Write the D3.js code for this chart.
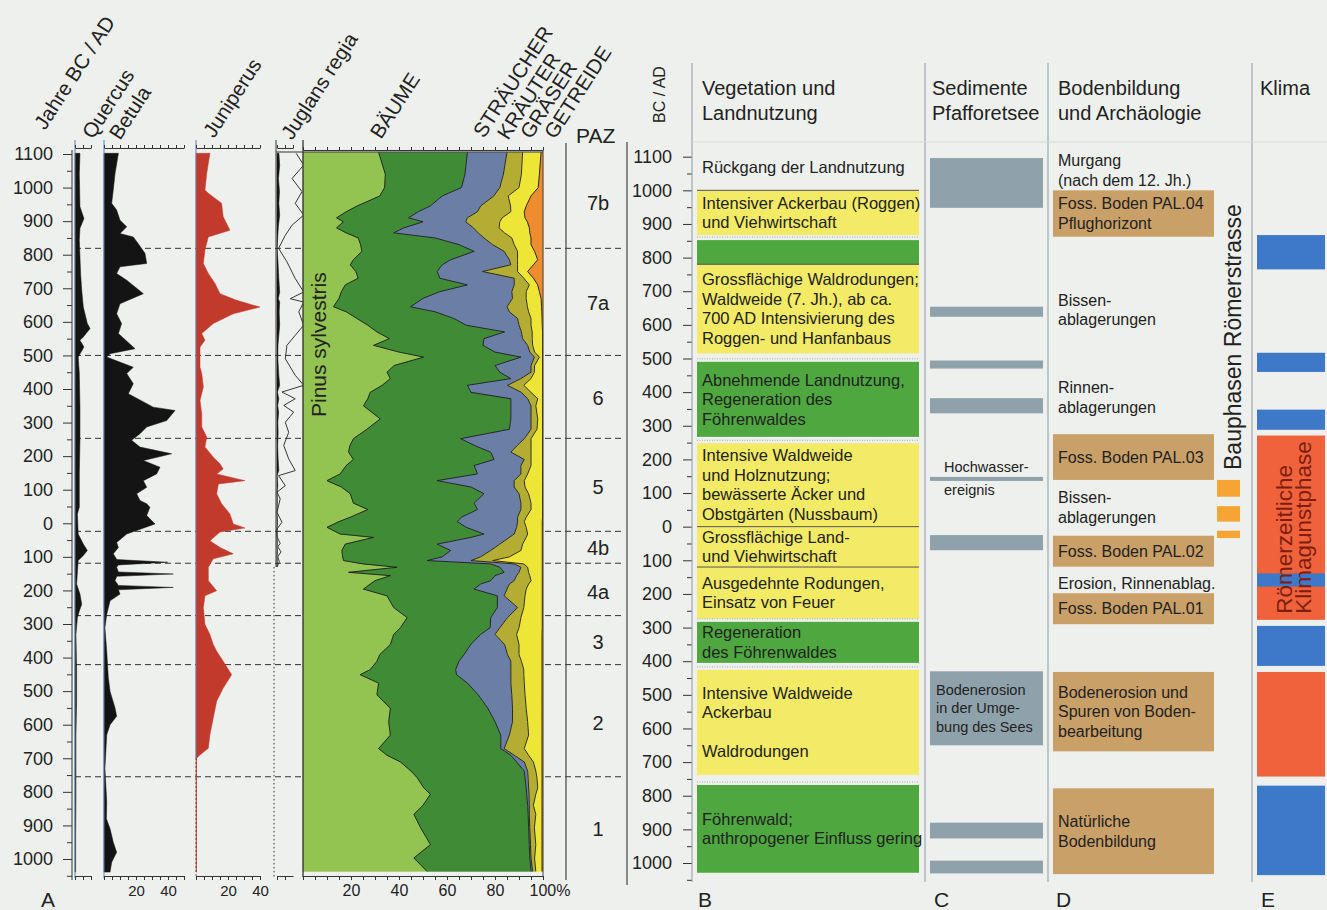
<!DOCTYPE html>
<html><head><meta charset="utf-8">
<script src="https://cdn.jsdelivr.net/npm/d3@7"></script>
<style>
body{margin:0;background:#eef0ed;}
svg{display:block;}
</style>
</head><body>
<svg id="c" width="1327" height="910"></svg>
<script>
// ---------------- DATA ----------------
const yearTicks = d3.range(1100, -1001, -100);
const minorTicks = d3.range(1050, -1051, -100);

// Pollen zone (PAZ) boundaries and labels
const pazBounds = [819, 500, 253, -24, -119, -275, -421, -755];
const pazLabels = ["7b", "7a", "6", "5", "4b", "4a", "3", "2", "1"];
const pazCenters = [954, 655, 372, 107, -75, -204, -353, -595, -911];

// Quercus (%)
const quercusYears = [1102,1042,943,908,879,843,744,694,644,595,580,555,545,525,495,446,346,247,147,48,28,-32,-62,-81,-96,-111,-181,-211,-241,-261,-281,-331,-431,-531,-631,-731,-831,-931,-1039];
const quercusPct   = [3.1,2.7,3.1,5.6,3.1,2.7,3.5,4.2,5.2,7.7,9.4,5.2,3.1,5.6,2,2.7,3.1,3.1,2.7,2.7,1.5,2,5.2,7.7,5.2,2,1,3.1,4.2,2.7,1.5,0.6,1,1,0.6,0.6,0.6,0.4,0.4];

// Betula (%)
const betulaYears = [1102,1042,993,953,933,903,883,863,853,833,804,774,764,744,724,684,654,624,595,565,520,505,495,465,446,416,386,346,336,306,287,267,247,227,207,187,167,147,127,107,88,68,58,48,23,-2,-32,-57,-72,-91,-108,-116,-124,-131,-145,-151,-158,-171,-185,-191,-198,-211,-231,-271,-311,-381,-460,-501,-550,-575,-600,-630,-730,-830,-880,-910,-950,-980,-1010,-1039];
const betulaPct   = [9,6.9,5.8,4.8,7.9,10,14.2,10,18.3,21.4,25.6,26.7,10,7.9,14.2,24.6,10,7.9,11,9,19.4,3.8,1.7,18.3,14.2,18.3,15.2,30.8,44.4,39.2,26.7,22.5,17.3,22.5,42.3,24.6,35,32.9,24.6,26.7,20.4,22.5,26.7,28.7,26.7,31.9,14.2,7.9,9,5.8,8,39.8,9,7.9,9,43.3,8,6.9,9,43.3,9,10,3.8,1.7,0.6,1.7,2.7,3.8,6.9,7.9,3.8,1.7,0.6,1.7,1.5,3.8,5.8,7.9,4.8,3.8];

// Juniperus (%)
const juniperusYears = [1102,1042,993,983,953,913,873,853,814,774,744,714,684,664,644,624,595,565,545,525,465,446,406,366,326,287,257,227,197,177,162,147,127,117,88,58,28,-2,-14,-26,-52,-72,-91,-106,-131,-171,-201,-216,-251,-301,-331,-361,-381,-411,-451,-491,-530,-580,-630,-670,-690,-700,-750,-1039];
const juniperusPct   = [8.7,6.7,5.6,7.7,16,17,21.2,7.7,5.6,4.6,7.7,11.9,15,25.4,40,23.3,10.8,3.6,5.6,2.5,2.5,3.6,4.6,2.5,3.6,3.6,6.7,5.6,10.8,15,17,12.9,30.6,14,12.9,16,21.2,23.3,30.6,15,8.7,15,23.3,10.8,7.7,7.7,12.9,5.6,4.6,5.6,8.7,10.8,12.9,17,22.3,17,12.9,10.8,8.7,7.7,2.5,0.4,0.3,0.3];

// Juglans regia (%), outline drawn with 10x exaggeration
const juglansYears = [1102,1067,1027,988,953,918,888,858,819,779,729,689,669,659,630,590,560,530,490,441,411,391,371,351,331,301,271,232,192,157,142,112,93,73,33,3,-17,-40,-60,-70,-85,-100,-115,-130];
const juglansPct   = [1.2,1.67,0.94,1.56,1.14,1.67,0.94,0.52,0.1,0.62,1.14,1.67,0.83,1.67,1.36,1.67,1.14,0.62,0.52,1.14,1.67,0.31,1.14,0.42,1.04,0.52,0.73,0.42,0.73,1.14,0.1,0.52,0,0.2,0,0.31,0,0,0.2,0.05,0.25,0.05,0.15,0];

// Cumulative main diagram (%): Pinus, Bäume, +Sträucher, +Kräuter, +Gräser (rest = Getreide)
const stackYears = [1105,1040,1000,975,945,928,910,898,880,865,850,830,810,785,770,750,730,710,690,670,645,630,610,590,570,550,530,510,495,470,450,431,411,390,371,350,311,280,252,230,212,190,172,147,127,108,88,60,41,18,5,-12,-32,-42,-62,-81,-100,-111,-121,-131,-146,-156,-171,-181,-196,-216,-251,-281,-311,-331,-361,-391,-411,-436,-451,-476,-511,-551,-591,-631,-671,-691,-711,-738,-758,-788,-807,-840,-867,-907,-957,-997,-1037];
const pinusPct = [31.5,34.3,34,32,22.5, 18,14,16.8,14,18, 23,24,24.5,21,19.7, 22,23,17.6,16,15, 12.7,18,22.5,27,30.8, 36,29.4,40,50.3,38, 35,36.4,33,28,27, 25.2,32.2,26.6,21,19.5, 19,21,18,15.5,10, 16,19.7,21,27,19.7, 15,10,15.5,29.4,17.6, 16.2,16.5,16.9,25,39.2, 19,36.4,30,28,25.2, 35,37.8,43.4,40.6,37.8, 36.4,32,30.8,28,23.8, 31.5,30.8,36.4,35.7,36.4, 31.5,35,40.6,45,47.6, 50.3,53.1,50,46.2,49, 53.1,46.2,51.7];
const baeumeCum = [68.5,67.5,66,58,53, 48,44,50,42,37.8, 55,65,71.3,61.5,58, 55.9,57,68.5,57,50, 44.8,55,62.9,68,84, 75.4,75,80,90.8,80, 82,86.6,68.5,70,86.6, 86.6,86.6,86,65.7,72, 78.2,79.6,71.3,72.7,55.9, 70,75.4,71.3,72.7,66, 64.3,68,75.4,70,55.9, 61.5,58,51.7,78.2,82, 83.8,80,78.2,74,71.3, 81,81,78.2,78,74, 69.9,67.1,65,63.6,64, 68.5,73,77,80,82.4, 82.4,86.6,89,92.2,92.5, 93,93.2,93.6,93.8,94, 94.3,94.5,95];
const straeucherCum = [85,83.5,82,79.5,74, 72.7,68.5,67.8,71,73, 75.4,79,83.8,86,86.6, 74.8,88,88,87,87.3, 85,86,89.4,90,91, 91.5,93.6,94.5,96.4,95, 95,90.8,85.2,91,93.6, 95,95,95,92.2,89, 86.6,92.2,90.8,90.8,88, 88,90,90.8,90.8,89.4, 89.4,89,88,86,82, 78.2,74,70,88,90.8, 90,89,88,86,85, 83.8,89.4,85.2,82,80, 84,85.2,86.6,86.6,86.6, 86.6,87,87.3,87.3,86, 83.8,88,92.2,93.6,93.8, 94,94.2,94.3,94.3,94.5, 94.8,95,95.7];
const kraeuterCum = [91.5,91,90,85.5,86.5, 86.6,83,82,81.7,84, 87,88,89.4,89.4,89.4, 89.4,92,94.3,93,93, 93.5,94,95,95,95.5, 95.5,95.7,96.5,98.5,96.5, 96.4,95,92,95,97.8, 97,97.8,97.5,95,95, 95,95,95,93.6,92.2, 92.5,94,95,95,93, 92.2,93,93.6,93,91.5, 90.8,86,79,92,93.6, 94,94.5,95,94,93, 92.5,92,90.8,90,89, 90,90,91,92,92, 92.2,92.5,93,93.6,94, 92.2,94,96,97,97.5, 97.8,97,96,97,96.4, 97,96.5,97];
const graeserCum = [99.2,98.5,98,95,93, 92.2,92.5,93.5,94.3,94.5, 95,95,96.5,97.8,96, 93.6,96,97.8,98.5,99.2, 99.4,99.5,99.6,99.7,99.8, 99.8,99.8,99.8,99.8,99.8, 99.8,99.8,99.8,99.8,99.8, 99.8,99.8,99.8,99.8,99.8, 99.8,99.8,99.8,99.8,99.8, 99.8,99.8,99.8,99.8,99.8, 99.7,99.7,99.7,99.7,99.7, 99.7,99.7,99.7,99.7,99.7, 99.7,99.7,99.7,99.7,99.7, 99.7,99.7,99.7,99.7,99.6, 99.6,99.6,99.6,99.6,99.6, 99.6,99.6,99.6,99.6,99.6, 99.6,99.6,99.6,99.6,99.6, 99.6,99.6,99.6,99.6,99.6, 99.6,99.6,99.6];

// B: Vegetation und Landnutzung
const vegFrom = [1140, 1000, 852, 780, 490, 248, 0, -120, -283, -426, -768];
const vegTo   = [1000, 867, 780, 515, 267, 0, -120, -273, -405, -738, -1029];
const vegKind = ["none","acker","wald","acker","wald","acker","acker","acker","wald","acker","wald"];
const vegText = [
  ["Rückgang der Landnutzung"],
  ["Intensiver Ackerbau (Roggen)","und Viehwirtschaft"],
  [],
  ["Grossflächige Waldrodungen;","Waldweide (7. Jh.), ab ca.","700 AD Intensivierung des","Roggen- und Hanfanbaus"],
  ["Abnehmende Landnutzung,","Regeneration des","Föhrenwaldes"],
  ["Intensive Waldweide","und Holznutzung;","bewässerte Äcker und","Obstgärten (Nussbaum)"],
  ["Grossflächige Land-","und Viehwirtschaft"],
  ["Ausgedehnte Rodungen,","Einsatz von Feuer"],
  ["Regeneration","des Föhrenwaldes"],
  ["Intensive Waldweide","Ackerbau","","Waldrodungen"],
  ["Föhrenwald;","anthropogener Einfluss gering"]
];

// C: Sedimente Pfafforetsee
const sedFrom = [1096, 654, 494, 382, 148, -25, -430, -880, -993];
const sedTo   = [948, 624, 470, 337, 136, -70, -650, -927, -1031];
const sedText = [[],[],[],[],["Hochwasser-","ereignis"],[],["Bodenerosion","in der Umge-","bung des Sees"],[],[]];

// D: Bodenbildung und Archäologie
const bodenFrom = [1000, 275, -27, -198, -432, -778];
const bodenTo   = [862, 139, -119, -290, -668, -1033];
const bodenText = [["Foss. Boden PAL.04","Pflughorizont"],["Foss. Boden PAL.03"],["Foss. Boden PAL.02"],["Foss. Boden PAL.01"],["Bodenerosion und","Spuren von Boden-","bearbeitung"],["Natürliche","Bodenbildung"]];
const noteYears = [1059, 644, 384, 57, -168];
const noteText = [["Murgang","(nach dem 12. Jh.)"],["Bissen-","ablagerungen"],["Rinnen-","ablagerungen"],["Bissen-","ablagerungen"],["Erosion, Rinnenablag."]];

// Bauphasen Römerstrasse
const roemFrom = [139, 61, -12];
const roemTo   = [89, 15, -34];

// E: Klima
const klimaFrom = [867, 517, 348, 271, -139, -295, -432, -770];
const klimaTo   = [765, 460, 288, -277, -178, -414, -743, -1036];
const klimaKind = ["kalt","kalt","kalt","warm","kalt","kalt","warm","kalt"];

// ---------------- DRAWING ----------------
const F = '"Liberation Sans", Arial, Helvetica, sans-serif';
const svg = d3.select("#c").attr("font-family", F);
const yL = d3.scaleLinear().domain([1100, -1000]).range([154, 859]);
const yR = d3.scaleLinear().domain([1100, -1000]).range([156.7, 863]);

const xQ = d3.scaleLinear().domain([0, 10]).range([75, 91]);
const xB = d3.scaleLinear().domain([0, 50]).range([104, 184]);
const xJ = d3.scaleLinear().domain([0, 40]).range([196, 260]);
const xG = d3.scaleLinear().domain([0, 10]).range([277, 293]);
const xGx = d3.scaleLinear().domain([0, 1]).range([277, 293]); // 10x exaggeration
const xS = d3.scaleLinear().domain([0, 100]).range([303, 543]);

const INK = "#222";
const LINEC = "#5d7ea6";

function line(x1, y1, x2, y2, stroke, w, dash) {
  const l = svg.append("line").attr("x1", x1).attr("y1", y1).attr("x2", x2).attr("y2", y2)
    .attr("stroke", stroke).attr("stroke-width", w || 1);
  if (dash) l.attr("stroke-dasharray", dash);
  return l;
}
function text(x, y, s, size, opts) {
  opts = opts || {};
  const t = svg.append("text").attr("x", x).attr("y", y).text(s)
    .attr("font-size", size).attr("fill", opts.fill || INK);
  if (opts.anchor) t.attr("text-anchor", opts.anchor);
  if (opts.transform) t.attr("transform", opts.transform);
  return t;
}

// dashed zone boundaries (drawn beneath everything)
svg.selectAll("line.paz").data(pazBounds).join("line").attr("class", "paz")
  .attr("x1", 75).attr("x2", 625).attr("y1", d => yL(d)).attr("y2", d => yL(d))
  .attr("stroke", "#333").attr("stroke-width", 1).attr("stroke-dasharray", "6,4");

// year axes
function yAxis(scale, x, major, minor, pad) {
  const g = svg.append("g").attr("transform", `translate(${x},0)`)
    .call(d3.axisLeft(scale).tickValues(yearTicks).tickSize(major).tickPadding(pad).tickFormat(d => Math.abs(d)));
  g.attr("font-family", F).attr("font-size", 18);
  g.select(".domain").remove();
  g.selectAll("text").attr("fill", INK);
  g.selectAll("line").attr("stroke", "#333");
  const m = svg.append("g").attr("transform", `translate(${x},0)`)
    .call(d3.axisLeft(scale).tickValues(minorTicks).tickSize(minor).tickFormat(""));
  m.select(".domain").remove();
  m.selectAll("line").attr("stroke", "#333");
}
yAxis(yL, 72, 9, 5, 10);
line(72, 150, 72, 880, "#333", 1);

// single-taxon curves
function silhouette(years, vals, xs, color) {
  const data = years.map((y, i) => ({ y, v: vals[i] }));
  svg.append("path").datum(data)
    .attr("d", d3.area().y(d => yL(d.y)).x0(xs(0)).x1(d => xs(d.v)))
    .attr("fill", color).attr("stroke", color).attr("stroke-width", 0.5);
}
silhouette(quercusYears, quercusPct, xQ, "#141414");
silhouette(betulaYears, betulaPct, xB, "#141414");
silhouette(juniperusYears, juniperusPct, xJ, "#c23a2c");
silhouette(juglansYears, juglansPct, xG, "#141414");

// Juglans exaggeration outline
svg.append("clipPath").attr("id", "jclip").append("rect").attr("x", 276).attr("y", 140).attr("width", 27).attr("height", 740);
svg.append("path").datum(juglansYears.map((y, i) => ({ y, v: juglansPct[i] })))
  .attr("clip-path", "url(#jclip)")
  .attr("d", d3.line().y(d => yL(d.y)).x(d => xGx(d.v)))
  .attr("fill", "none").attr("stroke", "#222").attr("stroke-width", 0.9);

// panel frame lines
line(75, 140, 75, 878, LINEC, 1);
line(104, 140, 104, 878, LINEC, 1);
line(196, 140, 196, yL(-700), LINEC, 1);
line(196, yL(-700), 196, 878, "#333", 1, "1.5,2.5");
line(276, 140, 276, yL(-130), "#333", 1);
line(274, yL(-130), 274, 878, "#333", 1, "1.5,2.5");

// stacked main diagram
const sData = stackYears.map((y, i) => ({ y, p: pinusPct[i], t: baeumeCum[i], s: straeucherCum[i], k: kraeuterCum[i], g: graeserCum[i] }));
const bands = [
  [d => 0, d => d.p, "#93c451"],
  [d => d.p, d => d.t, "#3f8b36"],
  [d => d.t, d => d.s, "#6a7ea6"],
  [d => d.s, d => d.k, "#b3ad33"],
  [d => d.k, d => d.g, "#ede636"],
  [d => d.g, d => 100, "#ee8c30"]
];
bands.forEach(([lo, hi, c]) => {
  svg.append("path").datum(sData)
    .attr("d", d3.area().y(d => yL(d.y)).x0(d => xS(lo(d))).x1(d => xS(hi(d))))
    .attr("fill", c).attr("stroke", c).attr("stroke-width", 0.4);
});
[d => d.p, d => d.t, d => d.s, d => d.k, d => d.g].forEach(f => {
  svg.append("path").datum(sData)
    .attr("d", d3.line().y(d => yL(d.y)).x(d => xS(f(d))))
    .attr("fill", "none").attr("stroke", "#1c1c1c").attr("stroke-width", 0.9);
});
line(303, 140, 303, 877, "#222", 1.2);
line(543, 150, 543, 877, "#444", 1);
line(276, 152, 543, 152, "#333", 1);
text(326, 417, "Pinus sylvestris", 21, { transform: "rotate(-90,326,417)" });

// top & bottom small axes
function hAxis(xs, dom, step, y, top, labels, sz) {
  const vals = d3.range(dom[0], dom[1] + 0.001, step);
  const ax = (top ? d3.axisTop(xs) : d3.axisBottom(xs)).tickValues(vals).tickSize(top ? 3 : 4).tickSizeOuter(0).tickPadding(5)
    .tickFormat(d => labels && labels[d] !== undefined ? labels[d] : "");
  const g = svg.append("g").attr("transform", `translate(0,${y})`).call(ax);
  g.attr("font-family", F).attr("font-size", sz || 15);
  g.selectAll("line").attr("stroke", "#333");
  g.select(".domain").attr("stroke", "#333");
  g.selectAll("text").attr("fill", INK);
  return g;
}
hAxis(xQ, [0, 10], 5, 148, true);
hAxis(xB, [0, 50], 5, 148, true);
hAxis(xJ, [0, 40], 5, 148, true);
hAxis(xG, [0, 10], 5, 148, true);
hAxis(xS, [0, 100], 5, 150, true);
hAxis(xQ, [0, 10], 5, 876, false);
hAxis(xB, [0, 50], 5, 876, false, { 20: "20", 40: "40" });
hAxis(xJ, [0, 40], 5, 876, false, { 20: "20", 40: "40" });
hAxis(xG, [0, 5], 5, 876, false);
const sb = hAxis(xS, [0, 100], 5, 876, false, { 20: "20", 40: "40", 60: "60", 80: "80", 100: "100%" }, 16);
sb.selectAll(".tick text").filter(d => d === 100).attr("text-anchor", "start").attr("x", -14);

// rotated headers
const headerRot = -57;
[["Jahre BC / AD", 45, 131], ["Quercus", 93, 140], ["Betula", 120, 141], ["Juniperus", 214, 139],
 ["Juglans regia", 292, 141], ["BÄUME", 381, 140], ["STRÄUCHER", 484, 139], ["KRÄUTER", 508, 141],
 ["GRÄSER", 531, 140], ["GETREIDE", 555, 140]].forEach(([s, x, y]) => {
  text(x, y, s, 20.5, { transform: `rotate(${headerRot},${x},${y})` });
});

// PAZ column
text(576, 143, "PAZ", 21);
line(566, 143, 566, 880, "#444", 1.2);
svg.selectAll("text.pazl").data(pazLabels).join("text").attr("class", "pazl")
  .attr("x", 598).attr("y", (d, i) => yL(pazCenters[i]) + 7).attr("text-anchor", "middle")
  .attr("font-size", 20).attr("fill", INK).text(d => d);

// right axis & columns
line(627, 142, 627, 885, "#444", 1.2);
yAxis(yR, 692, 9, 5, 11);
text(665, 123, "BC / AD", 16, { transform: "rotate(-90,665,123)" });
[692, 925, 1048, 1252].forEach(x => line(x, 63, x, 882, "#8d9aa6", 1));
line(692, 142, 1327, 142, "#d9dcd9", 1);

text(702, 95, "Vegetation und", 20); text(702, 120, "Landnutzung", 20);
text(932, 95, "Sedimente", 20); text(932, 120, "Pfafforetsee", 20);
text(1058, 95, "Bodenbildung", 20); text(1058, 120, "und Archäologie", 20);
text(1260, 95, "Klima", 20);

function linesBlock(x, cy, lines, size, lh) {
  lines.forEach((s, i) => {
    if (s) text(x, cy - (lines.length - 1) / 2 * lh + 0.35 * size + i * lh, s, size);
  });
}

// B boxes
const vegColor = { acker: "#f3ea66", wald: "#4ea83f" };
vegFrom.forEach((f, i) => {
  const y0 = yR(f), y1 = yR(vegTo[i]);
  if (vegKind[i] !== "none") {
    svg.append("rect").attr("x", 697).attr("y", y0).attr("width", 222).attr("height", y1 - y0).attr("fill", vegColor[vegKind[i]]);
    if (i > 0 && vegTo[i - 1] === f) line(697, y0, 919, y0, "#555", 1);
    else line(697, y0 - 3, 919, y0 - 3, "#999", 0.8, "1,1.5");
  }
  linesBlock(702, (y0 + y1) / 2, vegText[i], 16.5, 19.5);
});

// C boxes
sedFrom.forEach((f, i) => {
  const y0 = yR(f), y1 = yR(sedTo[i]);
  svg.append("rect").attr("x", 930).attr("y", y0).attr("width", 113).attr("height", y1 - y0).attr("fill", "#8fa2ab");
  const t = sedText[i];
  if (!t.length) return;
  if (y1 - y0 < 10) {
    text(944, y0 - 5, t[0], 14.5);
    text(944, y1 + 14, t[1], 14.5);
  } else {
    linesBlock(936, (y0 + y1) / 2, t, 14.5, 18.5);
  }
});

// D boxes & notes
bodenFrom.forEach((f, i) => {
  const y0 = yR(f), y1 = yR(bodenTo[i]);
  svg.append("rect").attr("x", 1053).attr("y", y0).attr("width", 161).attr("height", y1 - y0).attr("fill", "#c9a067");
  linesBlock(1058, (y0 + y1) / 2, bodenText[i], 16, 19.5);
});
noteYears.forEach((yv, i) => linesBlock(1058, yR(yv), noteText[i], 16, 19.5));

// Bauphasen Römerstrasse
roemFrom.forEach((f, i) => {
  svg.append("rect").attr("x", 1217).attr("y", yR(f)).attr("width", 23).attr("height", yR(roemTo[i]) - yR(f)).attr("fill", "#f4a533");
});
text(1241, 470, "Bauphasen Römerstrasse", 23, { transform: "rotate(-90,1241,470)" });

// E Klima
const klimaColor = { kalt: "#3e78c9", warm: "#f0623b" };
klimaFrom.forEach((f, i) => {
  svg.append("rect").attr("x", 1257).attr("y", yR(f)).attr("width", 68).attr("height", yR(klimaTo[i]) - yR(f)).attr("fill", klimaColor[klimaKind[i]]);
});
const ky = yR(-277) - 6;
text(1292, ky, "Römerzeitliche", 22.5, { fill: "#7d1e10", transform: `rotate(-90,1292,${ky})` });
text(1311, ky, "Klimagunstphase", 22.5, { fill: "#7d1e10", transform: `rotate(-90,1311,${ky})` });

// panel letters
[["A", 41], ["B", 698], ["C", 934], ["D", 1056], ["E", 1261]].forEach(([s, x]) => text(x, 907, s, 21));
</script>
</body></html>
